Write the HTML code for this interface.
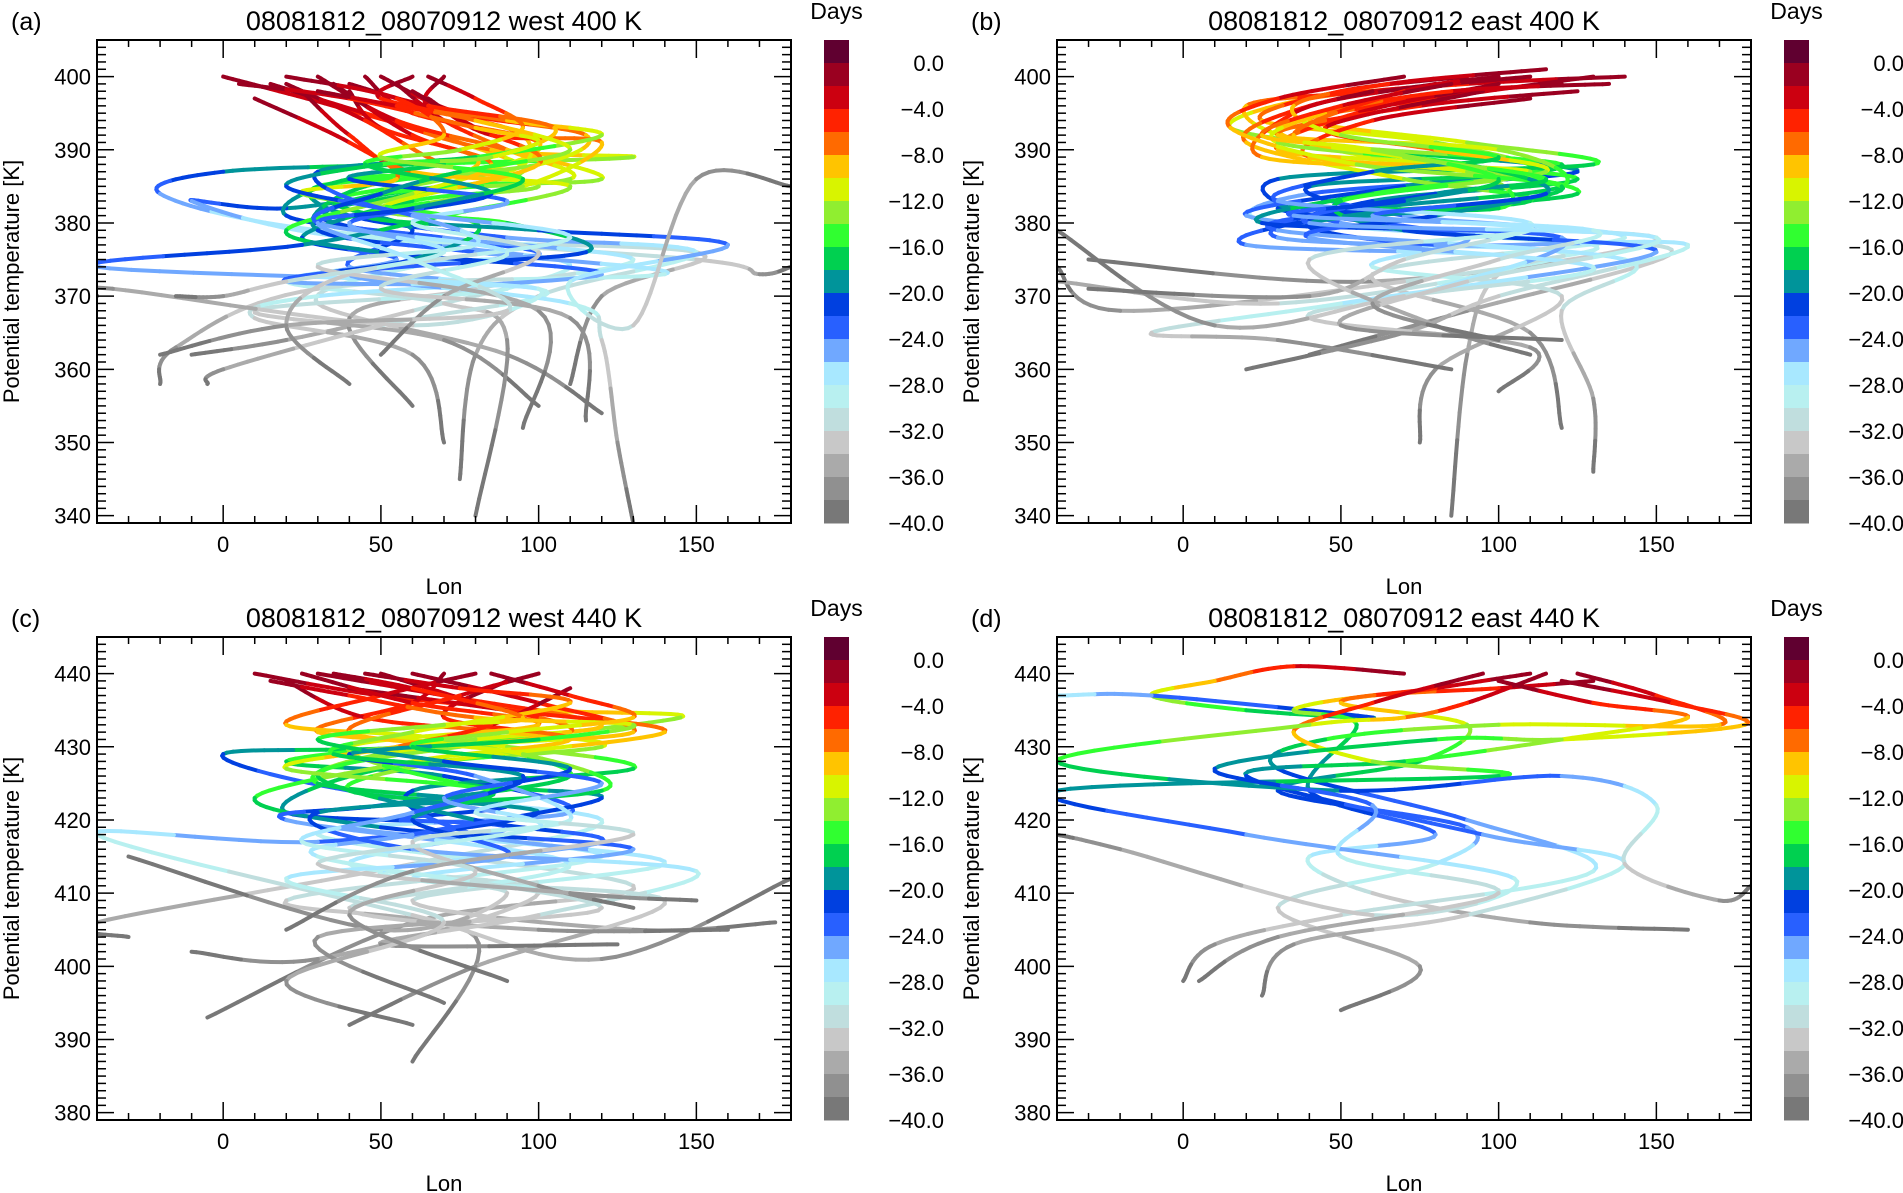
<!DOCTYPE html>
<html><head><meta charset="utf-8"><title>Trajectories</title>
<style>
html,body{margin:0;padding:0;background:#fff;}
svg{display:block;font-family:"Liberation Sans",sans-serif;}
</style></head>
<body>
<svg id="fig" width="1903" height="1193" viewBox="0 0 1903 1193" xmlns="http://www.w3.org/2000/svg"></svg>
<script>
// ---- data ----
const dayLevels = [2,0,-2,-4,-6,-8,-10,-12,-14,-16,-18,-20,-22,-24,-26,-28,-30,-32,-34,-36,-38,-40];
const levelColors = ["#600030","#9a0020","#cc0010","#ff2200","#ff6a00","#ffc400","#d8f400","#90ee30","#30ff30","#00d050","#00949a","#0040e0","#2860ff","#70a8ff","#a8e8ff","#b8f0f0","#c0dede","#c8c8c8","#aaaaaa","#909090","#787878"];
const cbTicks = [0,-4,-8,-12,-16,-20,-24,-28,-32,-36,-40];
const lonTicks = [0,50,100,150];
const thetaTicksLow = [340,350,360,370,380,390,400];
const thetaTicksHigh = [380,390,400,410,420,430,440];
const trajDays = [0,-4,-8,-12,-16,-20,-24,-28,-32,-36,-40];

const trajA = [
[[0,400],[35,396],[75,391],[95,387],[60,384],[30,381],[70,377],[110,374],[60,368],[20,364],[-10,362]],
[[15,399],[45,395],[85,390],[130,389],[60,388],[0,387],[-20,384],[30,379],[150,375],[170,373],[180,374]],
[[30,400],[55,394],[90,390],[120,386],[70,385],[20,382],[-10,383],[40,378],[150,376],[120,370],[110,358]],
[[45,400],[60,395],[100,391],[80,387],[30,385],[40,381],[90,378],[150,376],[100,370],[80,362],[75,345]],
[[55,399],[70,394],[90,390],[110,386],[50,384],[35,380],[100,376],[60,374],[30,369],[90,362],[120,354]],
[[70,400],[65,396],[95,392],[90,387],[40,386],[20,381],[70,378],[130,375],[80,371],[40,367],[60,355]],
[[40,398],[50,393],[80,389],[70,386],[35,383],[60,379],[40,374],[90,371],[10,368],[70,364],[100,355]],
[[20,399],[45,394],[70,388],[100,385],[60,383],[25,378],[55,375],[20,372],[70,369],[90,364],[80,340]],
[[50,400],[75,395],[115,392],[100,388],[45,385],[30,379],[80,376],[140,373],[30,371],[-15,363],[-20,358]],
[[35,399],[60,392],[85,388],[60,384],[20,379],[50,376],[120,373],[30,370],[10,367],[60,362],[70,350]],
[[25,398],[40,392],[60,387],[110,385],[70,381],[25,377],[-40,374],[100,371],[50,366],[0,360],[-5,358]],
[[60,398],[80,393],[100,388],[50,382],[90,380],[115,376],[40,373],[110,369],[120,364],[125,350],[130,339]],
[[10,397],[40,391],[55,386],[25,384],[80,380],[60,375],[20,372],[100,371],[60,366],[-35,371],[-40,370]],
[[65,397],[85,392],[120,391],[95,385],[45,381],[100,379],[160,377],[110,372],[130,366],[150,386],[180,385]],
[[5,399],[40,397],[80,393],[100,391],[70,388],[40,386],[90,383],[60,380],[100,376],[70,370],[50,362]],
[[60,400],[50,397],[90,394],[120,392],[80,389],[30,387],[50,382],[110,378],[40,373],[20,366],[40,358]],
[[40,399],[65,396],[105,393],[85,389],[50,388],[20,385],[60,381],[80,377],[30,374],[100,368],[95,352]],
[[30,398],[55,396],[80,394],[110,390],[75,387],[50,384],[30,380],[90,376],[50,371],[110,367],[115,353]],
[[65,400],[80,397],[95,393],[75,390],[45,388],[85,384],[40,380],[70,376],[20,372],[0,370],[-15,370]],
[[20,400],[55,397],[70,392],[50,389],[95,386],[60,382],[30,380],[60,375],[90,368],[20,366],[-20,362]]
];
const trajB = [
[[140,400],[90,399],[40,397],[15,393],[60,390],[125,387],[40,384],[30,380],[150,378],[60,372],[-30,375]],
[[110,400],[60,398],[20,396],[40,391],[120,388],[70,385],[20,381],[100,378],[155,376],[90,368],[40,362]],
[[120,399],[70,397],[30,393],[60,389],[125,386],[60,383],[30,378],[120,376],[70,372],[-20,368],[-40,374]],
[[90,400],[50,398],[25,394],[80,391],[110,387],[40,385],[70,381],[140,378],[60,373],[110,365],[120,352]],
[[130,400],[80,397],[40,394],[90,391],[130,388],[30,386],[50,380],[130,377],[100,373],[90,362],[85,340]],
[[100,399],[55,395],[30,390],[80,388],[125,384],[50,381],[20,377],[110,375],[30,369],[-40,372],[-40,371]],
[[80,399],[40,396],[20,391],[70,386],[110,383],[40,380],[80,377],[160,377],[100,370],[70,365],[20,360]],
[[125,398],[75,396],[30,392],[100,390],[120,385],[60,382],[30,379],[140,375],[120,368],[130,356],[130,346]],
[[60,398],[35,395],[25,389],[90,387],[100,382],[30,382],[90,378],[60,374],[120,370],[80,360],[75,350]],
[[110,397],[60,394],[40,389],[110,387],[60,384],[25,380],[120,378],[80,371],[40,367],[110,363],[100,357]],
[[95,398],[45,393],[80,390],[115,387],[50,383],[70,379],[150,376],[50,369],[-10,365],[30,364],[85,360]],
[[70,400],[30,397],[15,393],[55,388],[120,385],[80,381],[40,378],[130,374],[70,370],[10,366],[-40,379]],
[[115,401],[65,399],[35,396],[50,392],[100,389],[60,387],[30,383],[110,380],[70,375],[40,370],[-30,371]],
[[135,399],[85,398],[45,395],[30,391],[90,388],[115,384],[60,381],[110,379],[40,375],[80,366],[110,362]],
[[100,400],[70,398],[35,392],[70,389],[115,386],[80,384],[40,380],[150,378],[90,372],[50,366],[120,364]],
[[85,399],[50,396],[25,392],[60,390],[100,386],[70,383],[35,381],[130,379],[100,375],[60,369],[100,364]]
];
const trajC = [
[[10,440],[50,437],[100,435],[145,434],[60,430],[0,429],[40,424],[120,420],[60,414],[-40,406],[-30,404]],
[[30,440],[70,437],[120,433],[80,431],[20,428],[70,426],[110,421],[30,418],[130,411],[60,406],[-5,393]],
[[50,440],[80,436],[110,432],[50,429],[30,425],[90,422],[40,419],[120,415],[20,409],[80,404],[60,387]],
[[70,440],[60,436],[30,432],[90,430],[130,427],[60,424],[80,418],[140,414],[60,409],[130,405],[175,406]],
[[20,439],[45,434],[90,432],[120,430],[50,427],[20,421],[90,419],[40,414],[100,410],[30,401],[-10,402]],
[[90,439],[70,434],[110,431],[60,428],[10,423],[50,419],[130,416],[60,412],[140,409],[80,400],[40,392]],
[[40,438],[90,435],[140,432],[70,428],[40,424],[100,421],[30,417],[-40,418],[60,407],[120,401],[180,412]],
[[60,440],[100,436],[130,432],[75,430],[30,426],[80,420],[120,417],[50,413],[90,410],[50,405],[-30,415]],
[[80,440],[50,437],[20,433],[70,431],[110,426],[50,422],[20,420],[110,414],[40,408],[100,405],[160,405]],
[[25,440],[60,436],[100,433],[40,430],[75,425],[120,423],[60,418],[30,415],[120,408],[30,404],[70,395]],
[[100,440],[75,437],[40,432],[95,429],[120,424],[30,421],[60,416],[150,413],[100,407],[50,403],[125,403]],
[[110,438],[85,433],[55,430],[20,427],[85,424],[60,420],[90,415],[20,412],[70,406],[20,398],[60,392]],
[[15,439],[40,437],[80,434],[130,433],[100,431],[40,429],[80,426],[110,420],[60,417],[100,411],[130,408]],
[[45,440],[75,438],[110,436],[60,432],[35,429],[95,426],[60,421],[25,417],[80,413],[40,407],[90,398]],
[[85,440],[110,437],[130,434],[90,432],[60,430],[110,427],[70,423],[100,419],[30,414],[110,410],[150,409]],
[[35,440],[60,438],[95,434],[70,433],[30,431],[70,428],[120,425],[80,421],[130,418],[60,413],[20,405]]
];
const trajD = [
[[70,440],[35,441],[10,439],[-10,437],[20,435],[60,434],[-10,437],[-40,437],[-60,437],[-80,437],[-100,437]],
[[130,439],[100,438],[60,437],[35,435],[55,433],[40,424],[80,418],[40,415],[60,410],[110,406],[160,405]],
[[110,440],[80,438],[50,436],[90,433],[75,428],[30,424],[90,419],[80,414],[30,408],[75,400],[50,394]],
[[125,440],[150,437],[170,433],[100,433],[45,431],[30,427],[90,420],[130,413],[50,407],[10,403],[0,398]],
[[100,439],[130,436],[160,434],[120,431],[70,428],[20,426],[95,418],[140,414],[90,407],[35,403],[25,396]],
[[95,440],[60,436],[35,432],[60,428],[100,426],[-40,424],[20,418],[105,412],[60,407],[-20,416],[-40,418]],
[[115,440],[90,436],[70,434],[40,433],[-40,428],[50,424],[120,426],[150,422],[140,414],[170,409],[180,411]],
[[120,439],[155,436],[178,433],[120,431],[80,431],[10,427],[60,422],[50,415],[100,410],[30,404],[5,398]]
];

// ---- rendering ----
const NS = "http://www.w3.org/2000/svg";
const svg = document.getElementById("fig");
function mk(tag, attrs, parent){
  const e = document.createElementNS(NS, tag);
  for (const k in attrs) e.setAttribute(k, attrs[k]);
  (parent||svg).appendChild(e);
  return e;
}
function colorFor(day){
  let k = Math.floor((2 - day) / 2);
  if (k < 0) k = 0; if (k > 20) k = 20;
  return levelColors[k];
}
const panels = [
  {id:"a", x0:97, y0:40, title:"08081812_08070912 west 400 K", ymin:339, ymax:405, ticks:thetaTicksLow, traj:trajA},
  {id:"b", x0:1057, y0:40, title:"08081812_08070912 east 400 K", ymin:339, ymax:405, ticks:thetaTicksLow, traj:trajB},
  {id:"c", x0:97, y0:637, title:"08081812_08070912 west 440 K", ymin:379, ymax:445, ticks:thetaTicksHigh, traj:trajC},
  {id:"d", x0:1057, y0:637, title:"08081812_08070912 east 440 K", ymin:379, ymax:445, ticks:thetaTicksHigh, traj:trajD}
];
const W = 694, H = 483, LMIN = -40, LMAX = 180;

panels.forEach(p => {
  const g = mk("g", {});
  
  
  const sx = lon => p.x0 + (lon - LMIN) / (LMAX - LMIN) * W;
  const sy = th => p.y0 + (p.ymax - th) / (p.ymax - p.ymin) * H;

  const cp = mk("clipPath", {id:"clip-" + p.id}, g);
  mk("rect", {x:p.x0, y:p.y0, width:W, height:H}, cp);

  const tg = mk("g", {"clip-path":"url(#clip-" + p.id + ")", "stroke-width":"4", "stroke-linecap":"round", fill:"none"}, g);
  
  
  p.traj.forEach((pts, ti) => {
    const tr = mk("g", {}, tg);
    
    
    const n = pts.length;
    const STEPS = 14;
    let prev = null;
    for (let i = 0; i < n - 1; i++) {
      const P0 = pts[Math.max(0,i-1)], P1 = pts[i], P2 = pts[i+1], P3 = pts[Math.min(n-1,i+2)];
      for (let s = 0; s <= STEPS; s++) {
        const t = s / STEPS, t2 = t*t, t3 = t2*t;
        const lon = 0.5*((2*P1[0]) + (-P0[0]+P2[0])*t + (2*P0[0]-5*P1[0]+4*P2[0]-P3[0])*t2 + (-P0[0]+3*P1[0]-3*P2[0]+P3[0])*t3);
        const th = 0.5*((2*P1[1]) + (-P0[1]+P2[1])*t + (2*P0[1]-5*P1[1]+4*P2[1]-P3[1])*t2 + (-P0[1]+3*P1[1]-3*P2[1]+P3[1])*t3);
        const day = trajDays[i] + (trajDays[i+1] - trajDays[i]) * t;
        const cur = [sx(lon), sy(th), day];
        if (prev && s > 0) {
          mk("line", {x1:prev[0].toFixed(1), y1:prev[1].toFixed(1), x2:cur[0].toFixed(1), y2:cur[1].toFixed(1), stroke:colorFor((prev[2]+cur[2])/2)}, tr);
        }
        prev = cur;
      }
    }
  });

  const fr = mk("rect", {x:p.x0, y:p.y0, width:W, height:H, fill:"none", stroke:"#000", "stroke-width":"2"}, g);
  
  

  const ax = mk("g", {stroke:"#000", "stroke-width":"1.5"}, g);
  
  
  for (let lon = -40; lon <= 180; lon += 10) {
    const x = sx(lon), len = (lon % 50 === 0) ? 18 : 7;
    mk("line", {x1:x, y1:p.y0+H, x2:x, y2:p.y0+H-len}, ax);
    mk("line", {x1:x, y1:p.y0, x2:x, y2:p.y0+len}, ax);
  }
  lonTicks.forEach(v => {
    const t = mk("text", {x:sx(v), y:p.y0+H+29, "text-anchor":"middle", "font-size":"22", fill:"#000", stroke:"none"}, g);
    t.textContent = String(v);
    
    
  });
  const xl = mk("text", {x:sx(70), y:p.y0+H+71, "text-anchor":"middle", "font-size":"22", fill:"#000"}, g);
  xl.textContent = "Lon";
  
  

  const ay = mk("g", {stroke:"#000", "stroke-width":"1.5"}, g);
  
  
  for (let th = Math.ceil(p.ymin); th <= p.ymax; th += 1) {
    const y = sy(th), len = (th % 10 === 0) ? 17 : 9;
    mk("line", {x1:p.x0, y1:y, x2:p.x0+len, y2:y}, ay);
    mk("line", {x1:p.x0+W, y1:y, x2:p.x0+W-len, y2:y}, ay);
  }
  p.ticks.forEach(v => {
    const t = mk("text", {x:p.x0-6, y:sy(v)+8, "text-anchor":"end", "font-size":"22", fill:"#000"}, g);
    t.textContent = String(v);
    
    
  });
  const ylx = p.x0 - 78, yly = p.y0 + H/2;
  const yl = mk("text", {x:ylx, y:yly, "text-anchor":"middle", "font-size":"22", fill:"#000", transform:"rotate(-90 " + ylx + " " + yly + ")"}, g);
  yl.textContent = "Potential temperature [K]";
  
  

  const ti = mk("text", {x:p.x0+347, y:p.y0-10, "text-anchor":"middle", "font-size":"27", fill:"#000"}, g);
  ti.textContent = p.title;
  
  
  const pl = mk("text", {x:p.x0-86, y:p.y0-10, "font-size":"25", fill:"#000"}, g);
  pl.textContent = "(" + p.id + ")";
  
  

  const cx = p.x0 + W + 33, cw = 25;
  const cb = mk("g", {}, g);
  
  
  const span = dayLevels[0] - dayLevels[dayLevels.length-1];
  const cy = d => p.y0 + (dayLevels[0] - d) / span * H;
  for (let k = 0; k < levelColors.length; k++) {
    const r = mk("rect", {x:cx, y:cy(dayLevels[k]), width:cw, height:cy(dayLevels[k+1]) - cy(dayLevels[k]) + 0.5, fill:levelColors[k]}, cb);
    
    
  }
  cbTicks.forEach(v => {
    const t = mk("text", {x:cx+120, y:cy(v)+8, "text-anchor":"end", "font-size":"22", fill:"#000"}, cb);
    t.textContent = (v === 0 ? "0.0" : "\u2212" + Math.abs(v).toFixed(1));
    
    
  });
  const dl = mk("text", {x:cx+cw/2, y:p.y0-21, "text-anchor":"middle", "font-size":"23", fill:"#000"}, cb);
  dl.textContent = "Days";
  
  
});
</script>
</body></html>
